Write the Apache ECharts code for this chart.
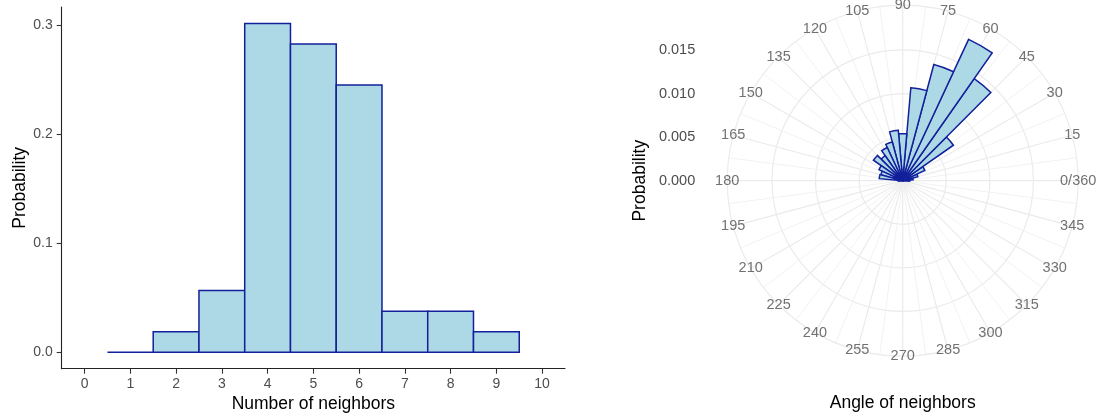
<!DOCTYPE html>
<html>
<head>
<meta charset="utf-8">
<script src="https://cdn.jsdelivr.net/npm/echarts@6/dist/echarts.min.js"></script>
<style>
html,body{margin:0;padding:0;background:#fff;}
#chart{width:1101px;height:414px;}
</style>
</head>
<body>
<div id="chart"></div>
<script>
// ---- Data ----
const neighborCounts = [1, 2, 3, 4, 5, 6, 7, 8, 9];
const neighborProb = [0, 0.0189, 0.0566, 0.3019, 0.2830, 0.2453, 0.0377, 0.0377, 0.0189];
const countTicks = [0, 1, 2, 3, 4, 5, 6, 7, 8, 9, 10];
const probTicks = [0, 0.1, 0.2, 0.3];

const angleCenters = [0, 10, 20, 30, 40, 50, 60, 70, 80, 90, 100, 110, 120, 130, 140, 150, 160, 170, 180];
const angleProb = [0.0008, 0.0012, 0.0018, 0.0028, 0.0071, 0.0143, 0.0179, 0.0138, 0.0107, 0.0054, 0.0058, 0.0046, 0.0042, 0.0035, 0.0041, 0.0030, 0.0026, 0.0027, 0.0005];
const angleBinWidth = 10;
const angleTicks = [0, 15, 30, 45, 60, 75, 90, 105, 120, 135, 150, 165, 180, 195, 210, 225, 240, 255, 270, 285, 300, 315, 330, 345];
const radialTicks = [0, 0.005, 0.010, 0.015];

// ---- Styles ----
const FONT = "'Liberation Sans', Arial, sans-serif";
const FILL = '#ADD8E6';
const STROKE = '#13209b';
const GRID = '#ebebeb';
const TICKTXT = '#4d4d4d';

const barMax = Math.max(...neighborProb);
const yMin = -0.05 * barMax, yMax = 1.05 * barMax;
const rOuter = Math.max(...angleProb) * 0.45 / 0.4;

const cx = 902.7, cy = 180.7, R = 175.5;

const chart = echarts.init(document.getElementById('chart'), null, {renderer: 'canvas'});

chart.setOption({
  animation: false,
  grid: [
    {left: 61.7, top: 7, right: 1101 - 565, bottom: 414 - 368.7, containLabel: false, outerBoundsMode: 'none'},
    {left: cx - R, top: cy - R, width: 2 * R, height: 2 * R, containLabel: false, outerBoundsMode: 'none'}
  ],
  xAxis: [
    {
      gridIndex: 0, type: 'value', min: -0.5, max: 10.5,
      axisLine: {show: true, onZero: false, lineStyle: {color: '#222', width: 1.1}},
      axisTick: {show: true, length: 5, customValues: countTicks, lineStyle: {color: '#333', width: 1.1}},
      axisLabel: {customValues: countTicks, margin: 8, color: TICKTXT, fontSize: 14, fontFamily: FONT},
      splitLine: {show: false},
      name: 'Number of neighbors', nameLocation: 'middle', nameGap: 26.5,
      nameTextStyle: {color: '#000', fontSize: 17.5, fontFamily: FONT}
    },
    {
      gridIndex: 1, type: 'value', min: 0, max: 1,
      axisLine: {show: false, onZero: false}, axisTick: {show: false}, axisLabel: {show: false}, splitLine: {show: false},
      name: 'Angle of neighbors', nameLocation: 'middle', nameGap: 37.5,
      nameTextStyle: {color: '#000', fontSize: 17.5, fontFamily: FONT}
    }
  ],
  yAxis: [
    {
      gridIndex: 0, type: 'value', min: yMin, max: yMax,
      axisLine: {show: true, onZero: false, lineStyle: {color: '#222', width: 1.1}},
      axisTick: {show: true, length: 5, customValues: probTicks, lineStyle: {color: '#333', width: 1.1}},
      axisLabel: {customValues: probTicks, margin: 9, color: TICKTXT, fontSize: 14, fontFamily: FONT,
                  formatter: v => Number(v).toFixed(1)},
      splitLine: {show: false},
      name: 'Probability', nameLocation: 'middle', nameGap: 32, nameRotate: 90,
      nameTextStyle: {color: '#000', fontSize: 17.5, fontFamily: FONT}
    },
    {
      gridIndex: 1, type: 'value', min: -rOuter, max: rOuter,
      axisLine: {show: false, onZero: false}, axisTick: {show: false, customValues: radialTicks},
      axisLabel: {customValues: radialTicks, margin: 32, color: TICKTXT, fontSize: 14.5, fontFamily: FONT,
                  formatter: v => Number(v).toFixed(3)},
      splitLine: {show: false},
      name: 'Probability', nameLocation: 'middle', nameGap: 78, nameRotate: 90,
      nameTextStyle: {color: '#000', fontSize: 17.5, fontFamily: FONT}
    }
  ],
  polar: {center: [cx, cy], radius: R},
  angleAxis: {
    type: 'value', min: 0, max: 360, interval: 15, startAngle: 0, clockwise: false,
    axisLine: {show: true, lineStyle: {color: GRID, width: 1.2}},
    axisTick: {show: false},
    axisLabel: {show: false},
    minorTick: {show: false, splitNumber: 2},
    splitLine: {show: true, lineStyle: {color: GRID, width: 1.2}},
    minorSplitLine: {show: true, lineStyle: {color: '#efefef', width: 0.8}}
  },
  radiusAxis: {
    type: 'value', min: 0, max: rOuter,
    axisLine: {show: false}, axisLabel: {show: false},
    axisTick: {show: false, customValues: radialTicks.slice(1)},
    splitLine: {show: true, lineStyle: {color: GRID, width: 1.2}}
  },
  series: [
    {
      type: 'custom', xAxisIndex: 0, yAxisIndex: 0, z: 5,
      data: neighborCounts.map((c, i) => [c, neighborProb[i]]),
      renderItem: function (params, api) {
        const x = api.value(0), y = api.value(1);
        const p0 = api.coord([x - 0.5, 0]);
        const p1 = api.coord([x + 0.5, y]);
        return {
          type: 'rect',
          shape: {x: p0[0], y: p1[1], width: p1[0] - p0[0], height: p0[1] - p1[1]},
          style: {fill: FILL, stroke: STROKE, lineWidth: 1.5}
        };
      }
    },
    {
      type: 'custom', coordinateSystem: 'polar', z: 5,
      data: angleCenters.map((a, i) => [angleProb[i], a]),
      renderItem: function (params, api) {
        const v = api.value(0), a = api.value(1);
        const p1 = api.coord([v, a - angleBinWidth / 2]);
        const p2 = api.coord([v, a + angleBinWidth / 2]);
        const cs = params.coordSys;
        return {
          type: 'sector',
          shape: {cx: cs.cx, cy: cs.cy, r0: 0, r: p1[2], startAngle: -p2[3], endAngle: -p1[3], clockwise: true},
          style: {fill: FILL, stroke: STROKE, lineWidth: 1.5}
        };
      }
    },
    {
      type: 'scatter', coordinateSystem: 'polar', z: 10, silent: true,
      symbolSize: 0,
      data: angleTicks.map(a => [rOuter, a]),
      label: {
        show: true, position: 'inside', color: TICKTXT, fontSize: 14.5, fontFamily: FONT,
        formatter: p => (p.value[1] === 0 ? '0/360' : String(p.value[1]))
      }
    }
  ]
});
</script>
</body>
</html>
